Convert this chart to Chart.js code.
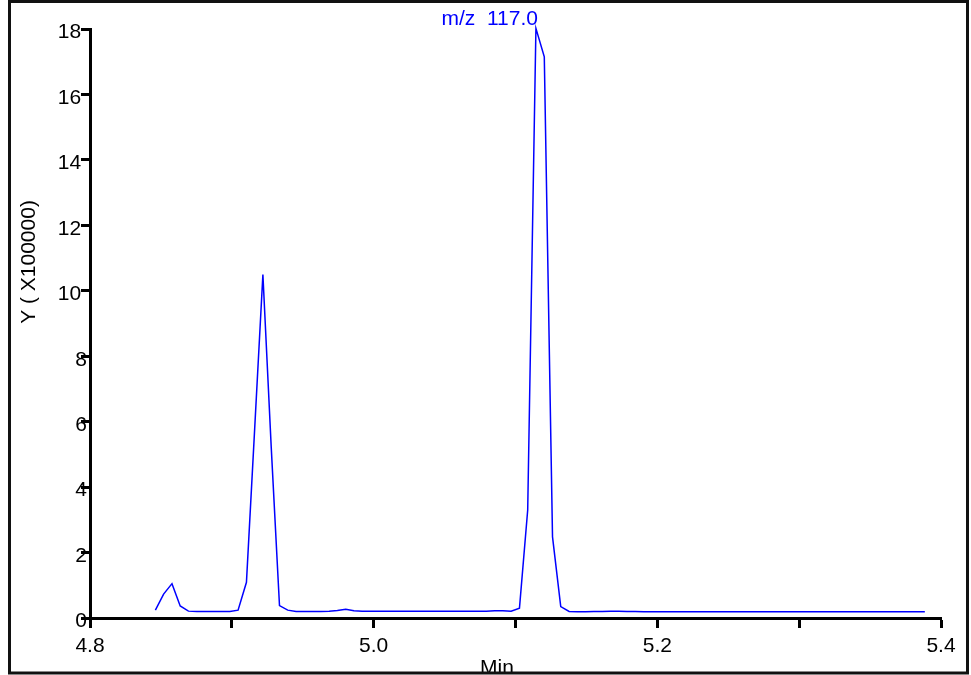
<!DOCTYPE html>
<html>
<head>
<meta charset="utf-8">
<script src="https://cdn.jsdelivr.net/npm/chart.js@4/dist/chart.umd.min.js"></script>
<style>
html,body{margin:0;padding:0;background:#fff;}
#wrap{width:971px;height:675px;position:relative;}
</style>
</head>
<body>
<div id="wrap"><canvas id="c" width="971" height="675"></canvas></div>
<script>
// Retention time (min)
const times = [
4.8461,4.8519,4.8578,4.8636,4.8694,4.8753,4.8811,4.8869,4.8928,4.8986,
4.9044,4.9103,4.9161,4.9219,4.9278,4.9336,4.9394,4.9453,4.9511,4.9569,
4.9628,4.9686,4.9744,4.9803,4.9861,4.9919,4.9978,5.0036,5.0094,5.0153,
5.0211,5.0269,5.0328,5.0386,5.0444,5.0503,5.0561,5.0619,5.0678,5.0736,
5.0794,5.0853,5.0911,5.0969,5.1028,5.1086,5.1144,5.1203,5.1261,5.1319,
5.1378,5.1436,5.1494,5.1553,5.1611,5.1669,5.1728,5.1786,5.1844,5.1903,
5.1961,5.2019,5.2078,5.2136,5.2194,5.2253,5.2311,5.2369,5.2428,5.2486,
5.2544,5.2603,5.2661,5.2719,5.2778,5.2836,5.2894,5.2953,5.3011,5.3069,
5.3128,5.3186,5.3244,5.3303,5.3361,5.3419,5.3478,5.3536,5.3594,5.3653,
5.3711,5.3769,5.3828,5.3886];
// Intensity (x100000), m/z 117.0
const intensity = [
0.24,0.73,1.05,0.37,0.21,0.20,0.20,0.20,0.20,0.20,
0.24,1.09,5.78,10.50,5.20,0.38,0.24,0.20,0.20,0.20,
0.20,0.21,0.23,0.27,0.22,0.21,0.21,0.21,0.21,0.21,
0.21,0.21,0.21,0.21,0.21,0.21,0.21,0.21,0.21,0.21,
0.21,0.22,0.22,0.21,0.30,3.30,18.02,17.15,2.48,0.35,
0.20,0.19,0.19,0.20,0.20,0.21,0.21,0.20,0.20,0.19,
0.19,0.19,0.19,0.19,0.19,0.19,0.19,0.19,0.19,0.19,
0.19,0.19,0.19,0.19,0.19,0.19,0.19,0.19,0.19,0.19,
0.19,0.19,0.19,0.19,0.19,0.19,0.19,0.19,0.19,0.19,
0.19,0.19,0.19,0.19];
const xLabeled = [4.8, 5.0, 5.2, 5.4];
const seriesLabel = 'm/z  117.0';
const xTitle = 'Min';
const yTitle = 'Y ( X100000)';

const FONT = '"Liberation Sans", Arial, sans-serif';
const FS = 21;

const decor = {
  id: 'decor',
  beforeDraw(chart) {
    const ctx = chart.ctx;
    ctx.save();
    ctx.fillStyle = '#fff';
    ctx.fillRect(0, 0, chart.width, chart.height);
    ctx.restore();
  },
  afterDraw(chart) {
    const ctx = chart.ctx;
    const xs = chart.scales.x;
    ctx.save();
    // series label at the apex
    const imax = intensity.indexOf(Math.max(...intensity));
    ctx.font = FS + 'px ' + FONT;
    ctx.fillStyle = '#0000ff';
    ctx.textAlign = 'right';
    ctx.textBaseline = 'alphabetic';
    ctx.fillText(seriesLabel, xs.getPixelForValue(times[imax]) + 2, 25);
    // axis titles
    ctx.fillStyle = '#000';
    ctx.textAlign = 'center';
    ctx.fillText(xTitle, 497, 674);
    ctx.save();
    ctx.translate(35, 262);
    ctx.rotate(-Math.PI / 2);
    ctx.textAlign = 'center';
    ctx.fillText(yTitle, 0, 0);
    ctx.restore();
    // outer frame
    ctx.strokeStyle = '#111';
    ctx.lineWidth = 3;
    ctx.strokeRect(9.5, 1.5, 958, 671.5);
    ctx.restore();
  }
};

new Chart(document.getElementById('c'), {
  type: 'line',
  data: {
    datasets: [{
      label: seriesLabel,
      data: times.map((t, i) => ({x: t, y: intensity[i]})),
      borderColor: '#0000ff',
      borderWidth: 1.5,
      pointRadius: 0,
      tension: 0,
      fill: false,
      clip: false
    }]
  },
  options: {
    responsive: false,
    animation: false,
    devicePixelRatio: 1,
    layout: {padding: {left: 0, top: 29, right: 30, bottom: 0}},
    plugins: {legend: {display: false}, tooltip: {enabled: false}, title: {display: false}},
    scales: {
      x: {
        type: 'linear',
        min: 4.8, max: 5.4,
        afterFit(s) { s.height = 57; },
        afterBuildTicks(s) {
          const arr = [];
          for (let k = 0; k <= 6; k++) arr.push({value: Math.round((4.8 + k * 0.1) * 10) / 10});
          s.ticks = arr;
        },
        border: {display: true, color: '#000', width: 3},
        grid: {display: true, drawOnChartArea: false, drawTicks: true, tickLength: 10, tickWidth: 3, tickColor: '#000'},
        ticks: {
          autoSkip: false, maxRotation: 0, minRotation: 0,
          padding: 6,
          color: '#000',
          font: {family: FONT, size: FS},
          callback(v) {
            const r = Math.round(v * 10) / 10;
            return xLabeled.some(l => Math.abs(l - r) < 1e-6) ? r.toFixed(1) : '';
          }
        }
      },
      y: {
        type: 'linear',
        min: 0, max: 18,
        afterFit(s) { s.width = 90; },
        border: {display: true, color: '#000', width: 3},
        grid: {display: true, drawOnChartArea: false, drawTicks: true, tickLength: 9, tickWidth: 3, tickColor: '#000'},
        ticks: {
          stepSize: 2,
          padding: -6,
          labelOffset: 3.5,
          color: '#000',
          font: {family: FONT, size: FS},
          callback(v) { return v >= 10 ? v + ' ' : '' + v; }
        }
      }
    }
  },
  plugins: [decor]
});
</script>
</body>
</html>
